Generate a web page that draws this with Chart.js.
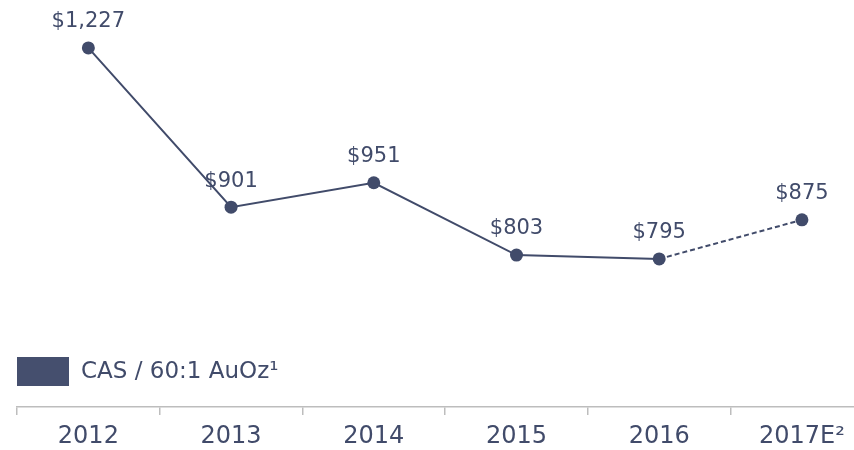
<!DOCTYPE html>
<html>
<head>
<meta charset="utf-8">
<script src="https://cdn.jsdelivr.net/npm/chart.js@4"></script>
<style>
  body { margin: 0; background: #fff; }
  #wrap { width: 854px; height: 450px; }
</style>
</head>
<body>
<div id="wrap"><canvas id="myChart"></canvas></div>
<script>
const years = ['2012', '2013', '2014', '2015', '2016', '2017E\u00B2'];
const cas = [1227, 901, 951, 803, 795, 875];
const seriesName = 'CAS / 60:1 AuOz\u00B9';

const navy = '#414b6a';

// value labels above each point
const valueLabels = {
    id: 'valueLabels',
    afterDatasetsDraw(chart) {
        const c = chart.ctx;
        const meta = chart.getDatasetMeta(0);
        c.save();
        c.font = '21px "DejaVu Sans"';
        c.fillStyle = navy;
        c.textAlign = 'center';
        c.textBaseline = 'middle';
        meta.data.forEach((pt, i) => {
            c.fillText('$' + cas[i].toLocaleString('en-US'), pt.x, pt.y - 26);
        });
        c.restore();
    }
};

// legend sits just above the x axis, left aligned
const boxLegend = {
    id: 'boxLegend',
    afterDraw(chart) {
        const c = chart.ctx;
        const area = chart.chartArea;
        const y = area.bottom - 50;
        c.save();
        c.fillStyle = '#454f6e';
        c.fillRect(area.left, y, 52, 29);
        c.font = '23px "DejaVu Sans"';
        c.fillStyle = navy;
        c.textBaseline = 'middle';
        c.fillText(chart.data.datasets[0].label, area.left + 64, y + 15);
        c.restore();
    }
};

// the last category runs past the right edge, so x is a linear index scale
new Chart(document.getElementById('myChart'), {
    type: 'line',
    data: {
        datasets: [
            {
                label: seriesName,
                data: cas.map((v, i) => ({ x: i, y: v })),
                borderColor: navy,
                backgroundColor: navy,
                borderWidth: 2,
                pointRadius: 6.5,
                pointHoverRadius: 6.5,
                pointBackgroundColor: navy,
                pointBorderWidth: 0,
                fill: false,
                tension: 0,
                clip: false,
                segment: {
                    borderDash: ctx => ctx.p1DataIndex === cas.length - 1 ? [5, 3] : undefined
                }
            }
        ]
    },
    options: {
        responsive: true,
        maintainAspectRatio: false,
        animation: false,
        layout: {
            autoPadding: false,
            padding: { left: 17, right: 0, top: 0, bottom: 0 }
        },
        plugins: {
            legend: { display: false },
            tooltip: { enabled: false }
        },
        scales: {
            x: {
                type: 'linear',
                min: -0.5,
                max: 5.365,
                afterBuildTicks: s => { s.ticks = years.map((_, i) => ({ value: i })); },
                afterFit: s => { s.height = 43; s.paddingLeft = 0; s.paddingRight = 0; },
                grid: {
                    offset: true,
                    drawOnChartArea: false,
                    drawTicks: true,
                    tickLength: 8,
                    color: '#bdbdbd',
                    lineWidth: 1.5
                },
                border: { color: '#bdbdbd', width: 1.5 },
                ticks: {
                    autoSkip: false,
                    maxRotation: 0,
                    color: navy,
                    padding: 7,
                    font: { family: 'DejaVu Sans', size: 24 },
                    callback: v => years[v]
                }
            },
            y: {
                display: false,
                min: 492,
                max: 1325
            }
        }
    },
    plugins: [valueLabels, boxLegend]
});
</script>
</body>
</html>
